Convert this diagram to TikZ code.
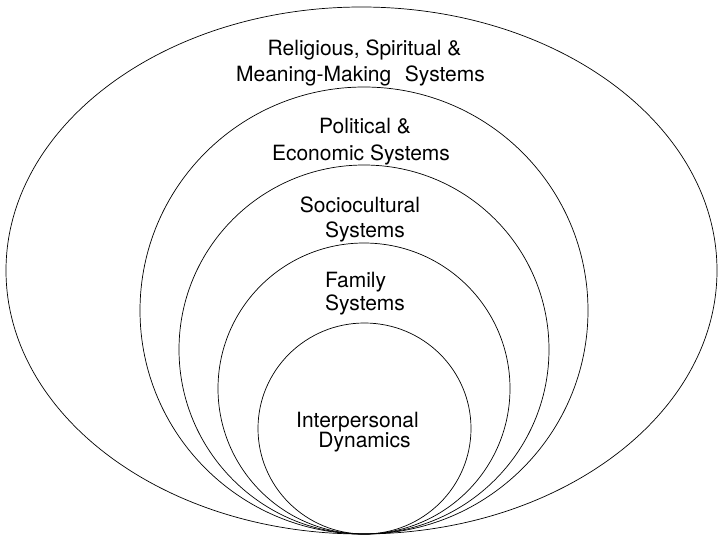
\documentclass[tikz,border=0pt]{standalone}
\usepackage{fontspec}
\setmainfont{TeX Gyre Heros}
\usetikzlibrary{shapes.geometric}

\begin{document}
\begin{tikzpicture}[x=1pt, y=-1pt,
		ring/.style={ellipse, draw, line width=0.7pt, inner sep=0pt},
		lbl/.style={anchor=base, inner sep=0pt, font=\fontsize{21}{25}\selectfont}]
		\useasboundingbox (0,0) rectangle (718,538);
		% nested systems, all touching at the bottom
		\node[ring, minimum width=711pt, minimum height=527pt] (rel) at (361.5,270.5) {};
		\node[ring, minimum width=448pt, minimum height=447pt] (pol) at (364,310.5) {};
		\node[ring, minimum width=370pt, minimum height=369pt] (soc) at (364,349.5) {};
		\node[ring, minimum width=292pt, minimum height=291pt] (fam) at (364,388.5) {};
		\node[ring, minimum width=213pt, minimum height=211pt] (int) at (364.5,428.5) {};
		% labels
		\node[lbl] (rel1) at (364.5,55.5) {Religious, Spiritual \&};
		\node[lbl] (rel2) at (360.5,81) {Meaning-Making\hspace{0.65em}Systems};
		\node[lbl] (pol1) at (365,133) {Political \&};
		\node[lbl] (pol2) at (361,160) {Economic Systems};
		\node[lbl] (soc1) at (360,212) {Sociocultural};
		\node[lbl] (soc2) at (365,237) {Systems};
		\node[lbl] (fam1) at (355.5,287) {Family};
		\node[lbl] (fam2) at (365,310) {Systems};
		\node[lbl] (int1) at (357.5,427) {Interpersonal};
		\node[lbl] (int2) at (364.5,447) {Dynamics};
	\end{tikzpicture}
\end{document}
